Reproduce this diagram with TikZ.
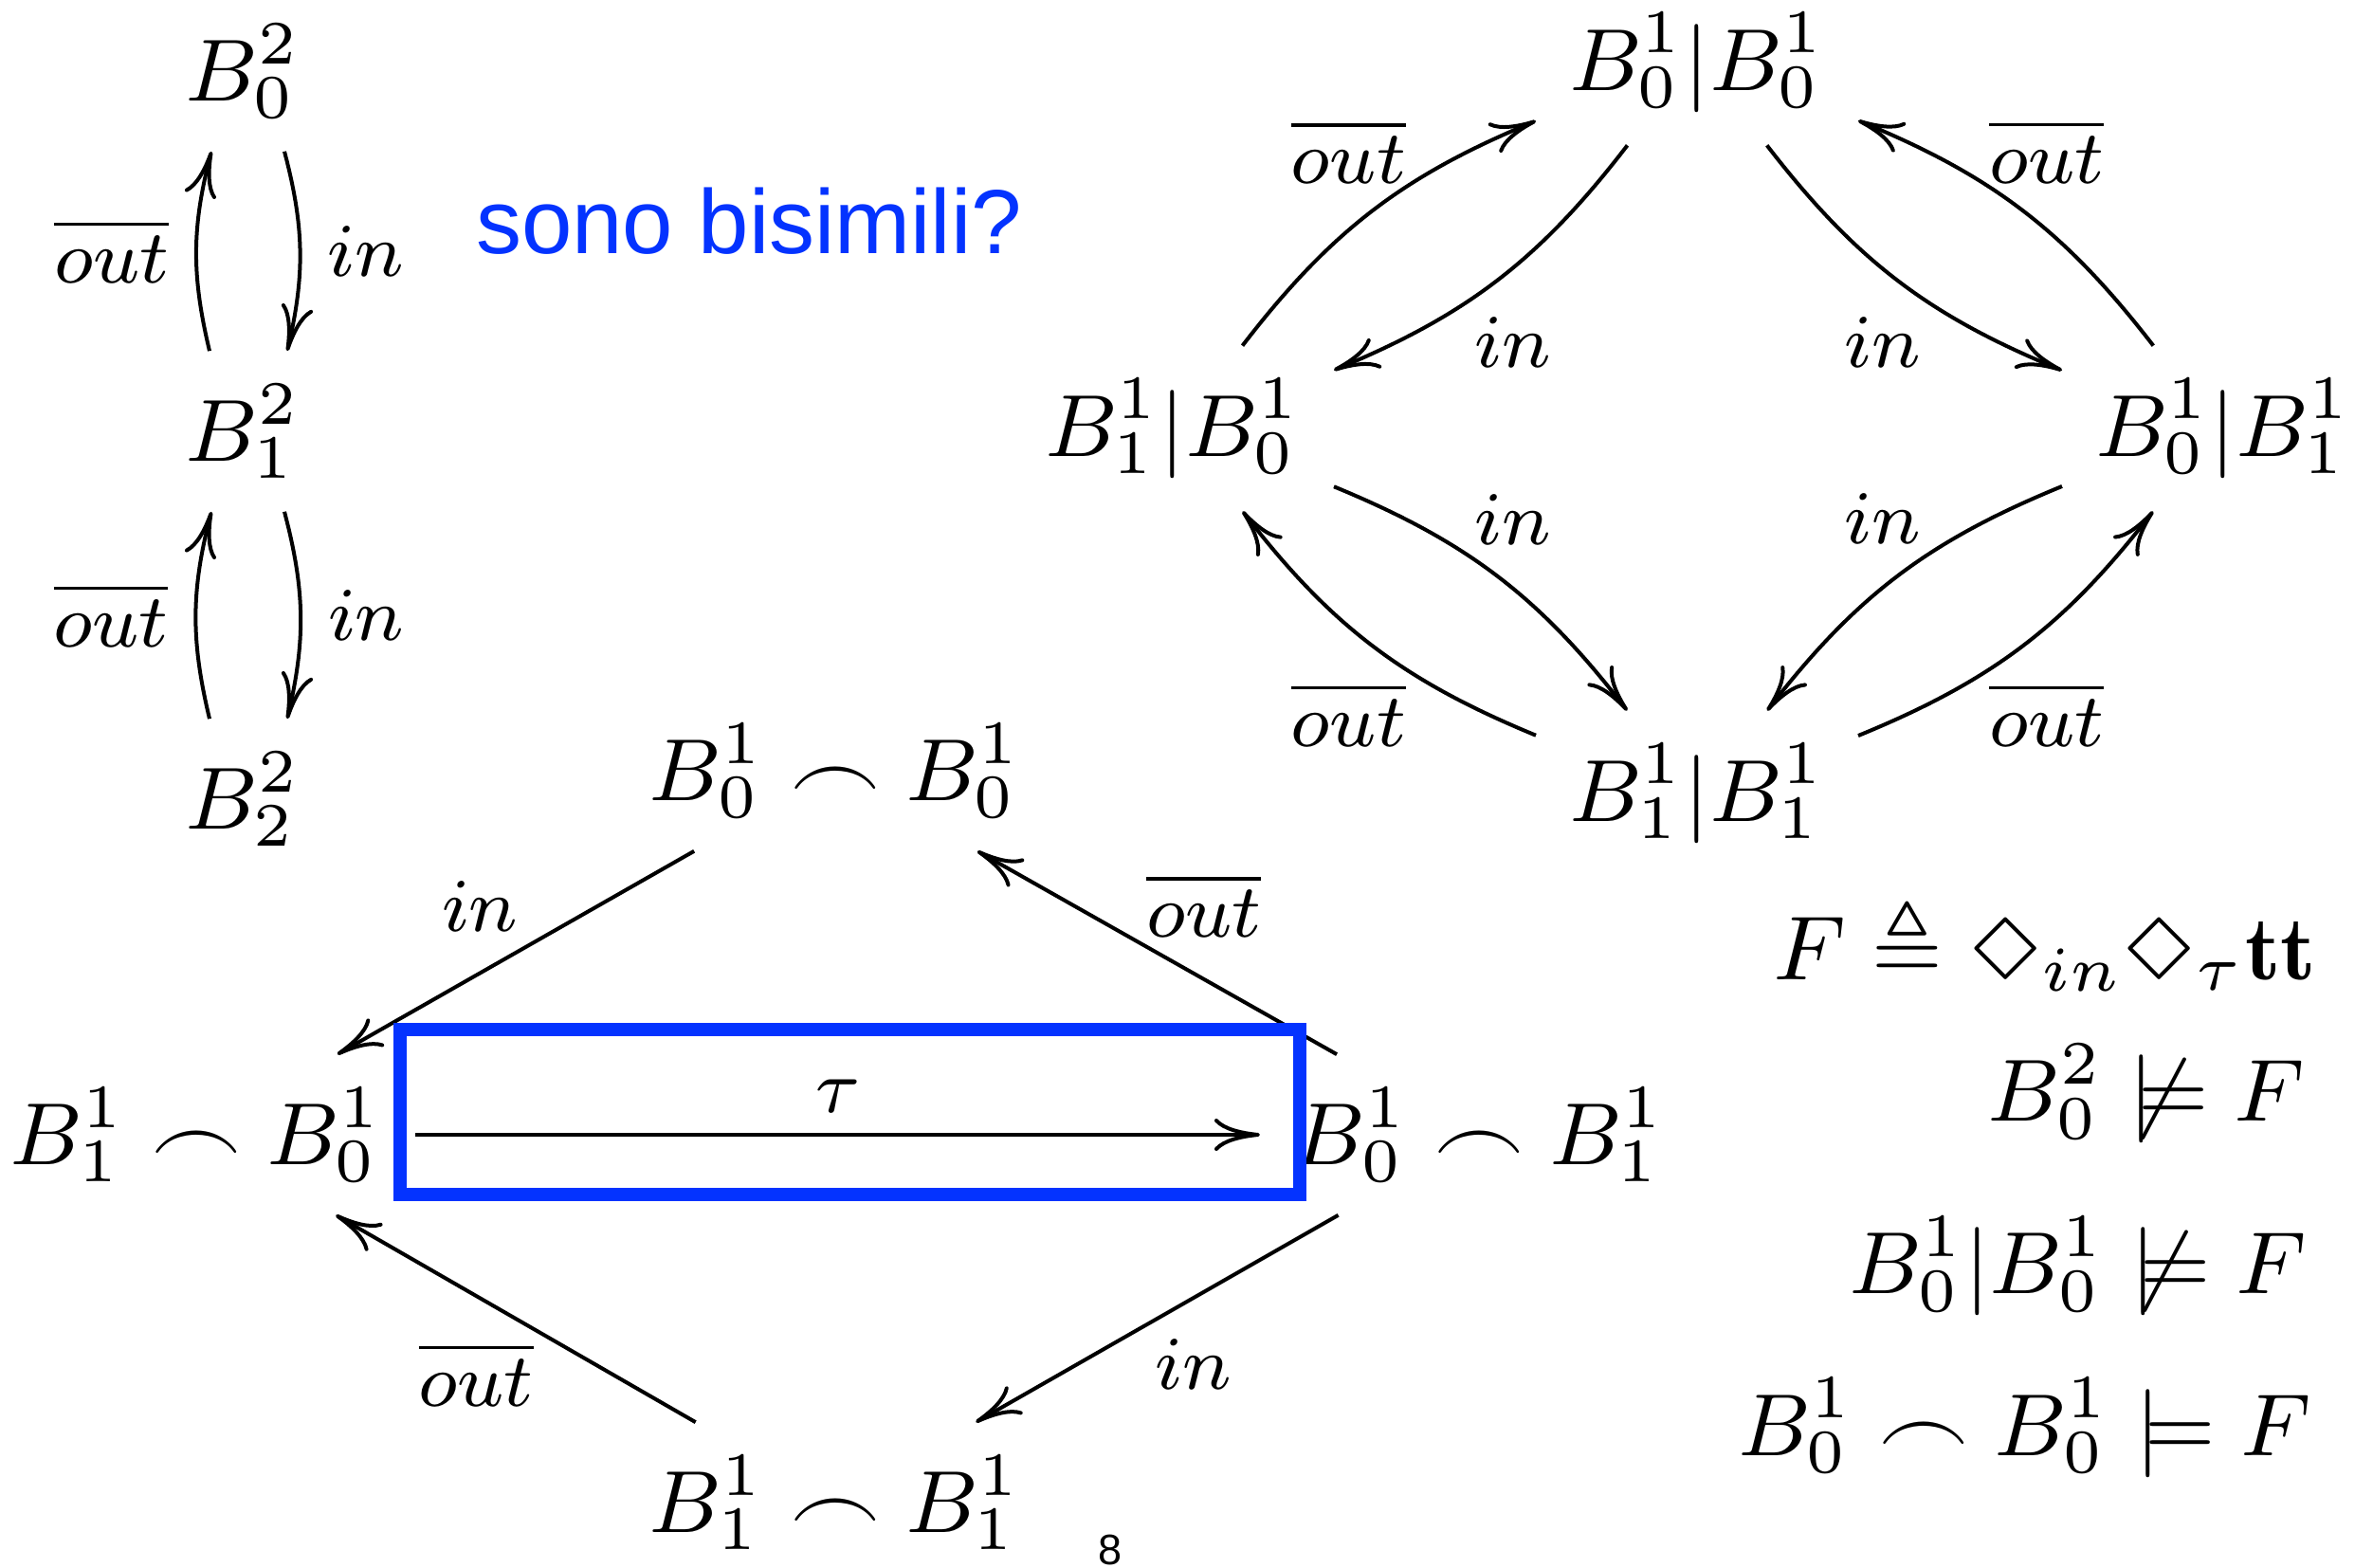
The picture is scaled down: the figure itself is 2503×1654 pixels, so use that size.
\RequirePackage{fix-cm}
\documentclass[tikz,border=0pt]{standalone}
\usepackage{amsmath,amssymb}
\usepackage{latexsym}
\usepackage{fontspec}
\newfontfamily\sansf{Liberation Sans}
\usetikzlibrary{arrows.meta}
\definecolor{kblue}{RGB}{4,51,255}
\begin{document}
\begin{tikzpicture}[x=0.1pt,y=-0.1pt,
  >={Computer Modern Rightarrow[length=4.8pt,width=3.4pt]},
  line width=0.4pt,
  every node/.style={font=\fontsize{9.3}{11.2}\selectfont},
  state/.style={inner sep=3.3pt},
  lbl/.style={font=\fontsize{8}{10}\selectfont, inner sep=2.7pt},
  formula/.style={anchor=base east, inner sep=0pt}]
\useasboundingbox (0,0) rectangle (2503,1654);

% top-left chain
\node[state] (a0) at (256,75) {$B_0^2$};
\node[state] (a1) at (256,455) {$B_1^2$};
\node[state] (a2) at (256,843) {$B_2^2$};
\draw[->] ([xshift=-3.5pt]a1.north) to[bend left=14] node[lbl,left] {$\overline{out}$} ([xshift=-3.3pt]a0.south);
\draw[->] ([xshift=4.4pt]a0.south) to[bend left=14] node[lbl,right] {$in$} ([xshift=4.7pt]a1.north);
\draw[->] ([xshift=-3.5pt]a2.north) to[bend left=14] node[lbl,left] {$\overline{out}$} ([xshift=-3.3pt]a1.south);
\draw[->] ([xshift=4.4pt]a1.south) to[bend left=14] node[lbl,right] {$in$} ([xshift=4.7pt]a2.north);

% question
\node[anchor=base west, inner sep=0pt, text=kblue, font=\sansf\fontsize{9.6}{11}\selectfont] (qq) at (500,268) {sono bisimili?};

% top-right diamond
\node[state] (t) at (1790,66) {$B_0^1|B_0^1$};
\node[state] (l) at (1237,452) {$B_1^1|B_0^1$};
\node[state] (r) at (2345,452) {$B_0^1|B_1^1$};
\node[state] (b) at (1790,837) {$B_1^1|B_1^1$};
\draw[->] (l) to[bend left=15] node[lbl,above,xshift=-2.5pt] {$\overline{out}$} (t);
\draw[->] (t) to[bend left=15] node[lbl,below,xshift=1.6pt,yshift=-1pt] {$in$} (l);
\draw[->] (t) to[bend right=15] node[lbl,below,xshift=-1.6pt,yshift=-1pt] {$in$} (r);
\draw[->] (r) to[bend right=15] node[lbl,above,xshift=2.5pt] {$\overline{out}$} (t);
\draw[->] (l) to[bend left=15] node[lbl,above,xshift=1.6pt,yshift=0.5pt] {$in$} (b);
\draw[->] (b) to[bend left=15] node[lbl,below,xshift=-2.5pt,yshift=-1pt] {$\overline{out}$} (l);
\draw[->] (b) to[bend right=15] node[lbl,below,xshift=2.5pt,yshift=-1pt] {$\overline{out}$} (r);
\draw[->] (r) to[bend right=15] node[lbl,above,xshift=-1.6pt,yshift=0.5pt] {$in$} (b);

% bottom-left diamond
\node[state] (p) at (881,813) {$B_0^1\frown B_0^1$};
\node[state] (q) at (207,1197) {$B_1^1\frown B_0^1$};
\node[state] (s) at (1560,1197) {$B_0^1\frown B_1^1$};
\node[state] (u) at (881,1585) {$B_1^1\frown B_1^1$};
\draw[->] (p) -- node[lbl,pos=0.6,above,yshift=1.5pt] {$in$} (q);
\draw[->] (s) -- node[lbl,pos=0.37,above,yshift=1.5pt] {$\overline{out}$} (p);
\draw[->] (q) -- node[lbl,above,yshift=-0.5pt] {$\tau$} (s);
\draw[->] (s) -- node[lbl,pos=0.42,below,xshift=0.8pt,yshift=-1pt] {$in$} (u);
\draw[->] (u) -- node[lbl,pos=0.61,below,yshift=-2pt] {$\overline{out}$} (q);
\draw[kblue, line width=1.35pt] (422,1086) rectangle (1371,1260);

% formulas
\node[formula, font=\fontsize{9.6}{11.5}\selectfont] (f1) at (2445,1034) {$F \triangleq \Diamond_{in}\Diamond_\tau\mathbf{tt}$};
\node[formula] (f2) at (2433,1183) {$B_0^2 \not\models F$};
\node[formula] (f3) at (2435,1365) {$B_0^1|B_0^1 \not\models F$};
\node[formula] (f4) at (2440,1535) {$B_0^1\frown B_0^1 \models F$};

% page number
\node[anchor=base, inner sep=0pt, font=\sansf\fontsize{4.5}{5}\selectfont] (pg) at (1171,1650) {8};
\end{tikzpicture}
\end{document}
